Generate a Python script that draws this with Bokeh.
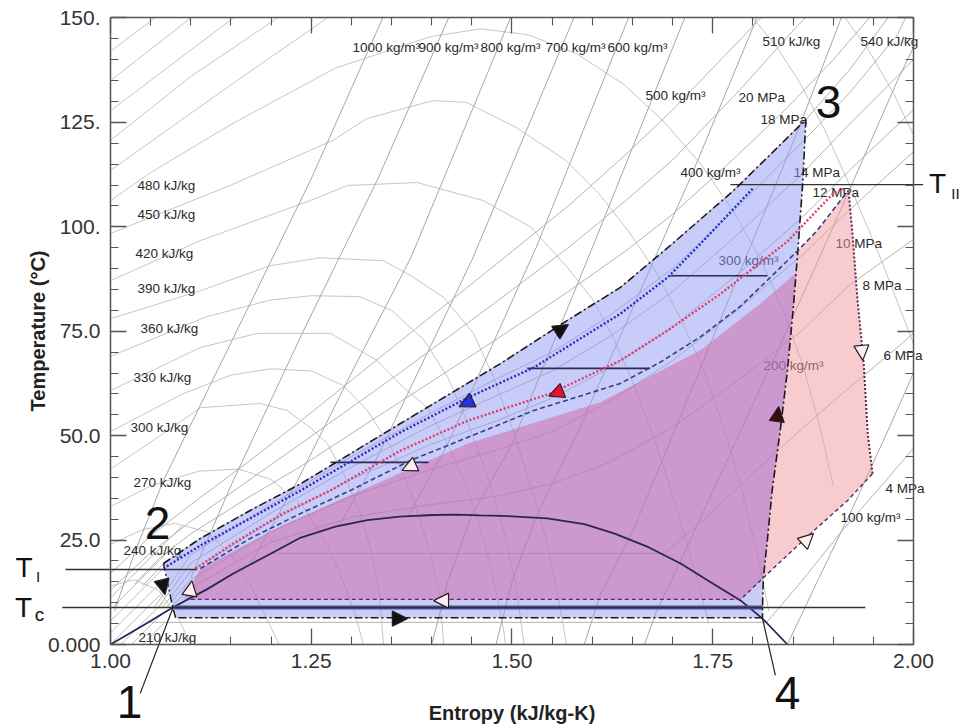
from bokeh.plotting import figure
from bokeh.models import (LinearAxis, FixedTicker, Range1d, NumeralTickFormatter,
                          Arrow, NormalHead, ColumnDataSource)
from bokeh.embed import file_html
from bokeh.resources import INLINE
from bokeh.core.properties import value

FONT = "Liberation Sans"

# ---------------- axes ----------------
X_TICKS = [1.0, 1.25, 1.5, 1.75, 2.0]
X_MINOR = [1.05, 1.10, 1.15, 1.20, 1.30, 1.35, 1.40, 1.45, 1.55, 1.60, 1.65, 1.70, 1.80, 1.85, 1.90, 1.95]
Y_TICKS = [0, 25, 50, 75, 100, 125, 150]
Y_MINOR = [5, 10, 15, 20, 30, 35, 40, 45, 55, 60, 65, 70, 80, 85, 90, 95, 105, 110, 115, 120, 130, 135, 140, 145]
Y_TICK_LABELS = ["0.000", "25.0", "50.0", "75.0", "100.", "125.", "150."]

# ---------------- saturation dome ----------------
DOME_S = [1.000, 1.040, 1.078, 1.120, 1.153, 1.200, 1.237, 1.280, 1.320, 1.360, 1.402, 1.430, 1.461,
          1.500, 1.544, 1.590, 1.627, 1.670, 1.710, 1.750, 1.785, 1.812, 1.843]
DOME_T = [0.0, 4.5, 8.9, 13.2, 17.0, 21.8, 25.6, 28.2, 29.8, 30.6, 31.0, 31.1, 30.9,
          30.7, 30.2, 28.8, 26.6, 23.3, 19.4, 14.6, 10.5, 6.2, 0.0]

# ---------------- isenthalps (grey) ----------------
ENTH_S = [
    [1.000, 1.062, 1.112, 1.187, 1.220, 1.249, 1.270, 1.290, 1.310, 1.325, 1.335, 1.340],
    [1.000, 1.090, 1.150, 1.200, 1.250, 1.290, 1.320, 1.350, 1.375, 1.395, 1.410, 1.415],
    [1.000, 1.112, 1.183, 1.274, 1.332, 1.365, 1.395, 1.420, 1.445, 1.465, 1.480, 1.490, 1.492],
    [1.000, 1.120, 1.200, 1.250, 1.310, 1.350, 1.390, 1.420, 1.445, 1.470, 1.490, 1.505, 1.515],
    [1.000, 1.112, 1.199, 1.261, 1.340, 1.374, 1.415, 1.452, 1.477, 1.500, 1.520, 1.540, 1.555, 1.568],
    [1.000, 1.112, 1.249, 1.295, 1.382, 1.464, 1.523, 1.569, 1.601, 1.626, 1.650, 1.672, 1.693, 1.712, 1.730, 1.745],
    [1.000, 1.150, 1.277, 1.319, 1.401, 1.443, 1.505, 1.567, 1.608, 1.645, 1.680, 1.710, 1.738, 1.762, 1.785, 1.805, 1.820],
    [1.000, 1.050, 1.150, 1.280, 1.398, 1.461, 1.520, 1.580, 1.640, 1.690, 1.735, 1.775, 1.810, 1.840, 1.865, 1.885, 1.900],
    [1.000, 1.050, 1.110, 1.160, 1.200, 1.240, 1.270, 1.290, 1.305, 1.315],
    [1.000, 1.040, 1.080, 1.120, 1.150, 1.175, 1.195, 1.210],
    [1.000, 1.030, 1.060, 1.085, 1.100],
    [1.000, 1.150, 1.270], [1.000, 1.100, 1.208], [1.000, 1.153], [1.000, 1.100], [1.000, 1.055],
    [1.800, 1.830, 1.860, 1.890, 1.925, 1.960, 2.000],
    [1.915, 1.945, 1.975, 2.000],
]
ENTH_T = [
    [42.0, 50.0, 56.7, 57.7, 56.0, 51.9, 48.1, 41.0, 32.0, 22.0, 12.0, 0.0],
    [51.0, 60.0, 64.5, 66.0, 65.5, 62.0, 56.0, 47.0, 36.0, 24.0, 12.0, 0.0],
    [60.8, 71.1, 74.5, 74.5, 68.0, 61.5, 56.7, 48.0, 37.0, 25.0, 13.0, 3.0, 0.0],
    [69.0, 78.5, 82.5, 83.5, 83.3, 80.0, 73.0, 64.0, 53.0, 40.0, 27.0, 14.0, 0.0],
    [78.0, 84.7, 90.7, 92.6, 91.9, 88.3, 83.1, 74.5, 64.0, 52.0, 40.0, 27.0, 14.0, 0.0],
    [87.1, 96.7, 106.3, 109.9, 110.6, 106.3, 100.0, 90.3, 82.4, 73.5, 63.0, 52.0, 40.0, 28.0, 16.0, 5.0],
    [98.4, 110.0, 120.7, 125.9, 130.2, 129.8, 123.8, 115.9, 108.0, 99.0, 89.0, 78.0, 66.0, 53.0, 38.0, 22.0, 8.0],
    [106.3, 113.0, 124.5, 138.0, 145.5, 147.4, 146.0, 141.5, 134.0, 125.0, 115.0, 104.0, 92.0, 79.0, 65.0, 51.0, 38.0],
    [33.0, 38.0, 41.5, 42.0, 39.5, 33.0, 24.0, 15.0, 7.0, 0.0],
    [24.0, 27.5, 29.0, 27.0, 21.5, 14.0, 6.0, 0.0],
    [14.0, 15.5, 13.0, 6.0, 0.0],
    [113.5, 134.0, 150.0], [120.7, 136.0, 150.0], [127.8, 150.0], [135.0, 150.0], [142.0, 150.0],
    [150.0, 143.0, 134.0, 123.0, 108.0, 92.0, 72.0],
    [150.0, 142.0, 132.0, 122.0],
]

# ---------------- isochores (grey) ----------------
RHO_S = [
    [1.005, 1.030, 1.066, 1.157, 1.249, 1.339],
    [1.100, 1.153, 1.240, 1.332, 1.421],
    [1.175, 1.233, 1.300, 1.374, 1.498],
    [1.285, 1.330, 1.450, 1.577],
    [1.370, 1.420, 1.530, 1.645],
    [1.400, 1.420, 1.450, 1.500, 1.600, 1.715],
    [1.480, 1.500, 1.530, 1.580, 1.725, 1.805],
    [1.590, 1.610, 1.650, 1.700, 1.790, 1.860, 1.910],
    [1.665, 1.680, 1.710, 1.770, 1.830, 1.900, 1.980, 2.000],
    [1.843, 1.880, 1.925, 1.970, 2.000],
]
RHO_T = [
    [8.0, 22.0, 39.3, 75.0, 111.1, 150.0],
    [16.0, 39.3, 75.0, 111.1, 150.0],
    [19.5, 39.3, 65.0, 92.6, 150.0],
    [28.5, 44.0, 92.0, 150.0],
    [30.5, 48.0, 95.0, 150.0],
    [0.0, 15.0, 31.0, 48.0, 95.0, 150.0],
    [0.0, 15.0, 30.5, 50.0, 113.0, 150.0],
    [0.0, 12.0, 27.0, 50.0, 92.0, 125.0, 150.0],
    [0.0, 8.0, 20.0, 45.0, 70.0, 100.0, 135.0, 143.0],
    [0.0, 15.0, 33.0, 52.0, 65.0],
]

# ---------------- isobars (grey) ----------------
P_S_STD = [1.100, 1.200, 1.300, 1.400, 1.480, 1.550, 1.620, 1.700, 1.780, 1.860, 1.920, 2.000]
P4_S = [1.045, 1.817, 1.860, 1.910, 1.960, 2.000]
P4_T = [5.3, 5.3, 15.0, 27.0, 38.0, 47.0]
P6_S = [1.200, 1.690, 1.740, 1.800, 1.860, 1.920, 1.970, 2.000]
P6_T = [21.8, 21.8, 30.0, 41.0, 51.5, 61.5, 69.5, 74.5]
P8_S = [1.075] + P_S_STD
P8_T = [9.0, 13.5, 24.5, 30.5, 33.5, 35.5, 38.5, 43.5, 52.0, 63.0, 75.0, 86.0, 97.0]
P10_S = [1.070] + P_S_STD
P10_T = [9.0, 15.5, 27.0, 35.5, 42.0, 46.5, 51.0, 58.0, 68.0, 80.0, 93.0, 104.0, 118.0]
P12_S = [1.065] + P_S_STD
P12_T = [9.0, 17.5, 29.5, 39.5, 48.0, 53.5, 59.0, 66.0, 76.0, 88.5, 102.0, 113.5, 128.0]
P14_S = [1.060] + P_S_STD
P14_T = [9.0, 19.5, 31.5, 42.5, 52.5, 59.5, 65.5, 73.5, 84.5, 98.0, 112.5, 124.5, 140.0]
P16_S = [1.055, 1.100, 1.200, 1.300, 1.400, 1.480, 1.550, 1.620, 1.700, 1.780, 1.860, 1.920, 1.980, 1.990]
P16_T = [9.0, 21.5, 33.5, 45.0, 55.5, 63.5, 70.0, 78.5, 90.0, 104.5, 120.0, 132.0, 146.0, 150.0]
P18_S = [1.040, 1.066, 1.112, 1.174, 1.237, 1.361, 1.486, 1.569, 1.635, 1.694, 1.776, 1.818, 1.866, 1.920, 1.968]
P18_T = [14.0, 19.4, 25.4, 32.1, 38.5, 52.9, 67.3, 77.6, 85.5, 95.0, 108.7, 116.6, 125.7, 137.5, 150.0]
P20_S = [1.030, 1.060, 1.100, 1.170, 1.240, 1.360, 1.480, 1.570, 1.640, 1.700, 1.780, 1.840, 1.900, 1.945]
P20_T = [14.5, 20.5, 26.5, 35.0, 43.0, 58.0, 73.0, 84.5, 94.0, 103.0, 117.0, 128.0, 140.0, 150.0]
P25_S = [1.000, 1.050, 1.100, 1.170, 1.240, 1.360, 1.480, 1.570, 1.640, 1.700, 1.780, 1.850, 1.865]
P25_T = [13.0, 22.0, 29.5, 39.0, 48.5, 65.0, 82.0, 95.0, 106.0, 116.0, 132.0, 147.0, 150.0]
P30_S = [1.000, 1.050, 1.100, 1.170, 1.240, 1.360, 1.480, 1.570, 1.640, 1.700, 1.760, 1.810]
P30_T = [17.0, 26.0, 33.5, 43.5, 54.0, 72.5, 91.0, 105.0, 117.0, 128.0, 140.0, 150.0]

# liquid-region hatch
HATCH_S = [[1.040, 1.066], [1.026, 1.066], [1.013, 1.066], [1.000, 1.066], [1.000, 1.066],
           [1.000, 1.066], [1.000, 1.080], [1.000, 1.090]]
HATCH_T = [[0.0, 5.0], [0.0, 7.7], [0.0, 10.2], [0.0, 12.7], [2.8, 15.5],
           [5.6, 18.3], [8.4, 23.8], [11.2, 28.5]]

# ---------------- line labels ----------------
ENTH_LABELS = ["480 kJ/kg", "450 kJ/kg", "420 kJ/kg", "390 kJ/kg", "360 kJ/kg", "330 kJ/kg",
               "300 kJ/kg", "270 kJ/kg", "240 kJ/kg", "210 kJ/kg", "510 kJ/kg", "540 kJ/kg"]
ENTH_LX = [1.0336, 1.0336, 1.0311, 1.0336, 1.0374, 1.0286, 1.0249, 1.0286, 1.0162, 1.0349, 1.8120, 1.9340]
ENTH_LY = [109.9, 103.0, 93.6, 85.2, 75.7, 63.9, 52.0, 38.8, 22.5, 1.7, 144.4, 144.4]

RHO_LABELS = ["1000 kg/m³", "900 kg/m³", "800 kg/m³", "700 kg/m³", "600 kg/m³",
              "500 kg/m³", "400 kg/m³", "300 kg/m³", "200 kg/m³", "100 kg/m³"]
RHO_LX = [1.3014, 1.3836, 1.4608, 1.5417, 1.6189, 1.6663, 1.7098, 1.7572, 1.8132, 1.9091]
RHO_LY = [142.9, 142.9, 142.9, 142.9, 142.9, 131.4, 113.0, 91.9, 66.8, 30.4]

P_LABELS = ["20 MPa", "18 MPa", "14 MPa", "12 MPa", "10 MPa", "8 MPa", "6 MPa", "4 MPa"]
P_LX = [1.7821, 1.8095, 1.8506, 1.8742, 1.9029, 1.9365, 1.9626, 1.9651]
P_LY = [131.0, 125.7, 113.0, 108.2, 96.0, 86.0, 69.2, 37.4]

# ---------------- cycle ----------------
HP_S = [1.066, 1.112, 1.174, 1.237, 1.361, 1.486, 1.569, 1.635, 1.694, 1.776, 1.818, 1.866]
HP_T = [19.4, 25.4, 32.1, 38.5, 52.9, 67.3, 77.6, 85.5, 95.0, 108.7, 116.6, 125.7]
EXP_S = [1.866, 1.862, 1.856, 1.850, 1.843, 1.834, 1.824, 1.818, 1.813, 1.812, 1.812]
EXP_T = [125.7, 110.4, 94.3, 79.9, 65.6, 51.2, 36.9, 24.9, 16.0, 9.1, 6.4]
BOT_S = [1.812, 1.081]
BOT_T = [6.4, 6.4]
LEFT_S = [1.081, 1.077, 1.066]
LEFT_T = [6.4, 9.3, 19.4]

BD_S = [1.066, 1.112, 1.174, 1.237, 1.361, 1.445, 1.527, 1.635, 1.694, 1.735, 1.800]
BD_T = [18.2, 23.7, 30.2, 36.9, 50.8, 59.1, 66.3, 79.2, 87.9, 96.0, 109.2]
RD_S = [1.106, 1.153, 1.215, 1.274, 1.361, 1.445, 1.548, 1.635, 1.694, 1.760, 1.843, 1.900, 1.915]
RD_T = [18.2, 24.2, 31.4, 36.9, 46.4, 53.6, 60.1, 68.0, 75.2, 84.0, 96.5, 108.0, 109.2]
ND_S = [1.112, 1.174, 1.237, 1.299, 1.374, 1.445, 1.527, 1.635, 1.684, 1.735, 1.784, 1.818, 1.856, 1.880, 1.909, 1.919]
ND_T = [18.2, 25.4, 31.4, 36.9, 44.1, 49.6, 56.0, 62.5, 67.5, 73.7, 80.9, 87.2, 94.3, 99.1, 106.3, 108.7]
LP_S = [1.100, 1.785, 1.813, 1.875, 1.918, 1.949]
LP_T = [10.8, 10.8, 16.0, 27.1, 34.5, 40.9]
PR_S = [1.949, 1.943, 1.938, 1.930, 1.924, 1.919]
PR_T = [40.9, 50.5, 67.3, 83.1, 98.4, 108.7]
PT_S = [1.854, 1.809, 1.735, 1.610, 1.445, 1.311, 1.212, 1.112, 1.100]
PT_T = [89.0, 81.5, 70.5, 58.0, 48.1, 36.8, 28.3, 18.2, 14.0]
VERT_UP_S = [1.818, 1.824, 1.834, 1.843, 1.850]
VERT_UP_T = [24.9, 36.9, 51.2, 65.6, 79.9]

ISO_S = [[1.274, 1.396], [1.519, 1.672], [1.697, 1.818]]
ISO_T = [[43.6, 43.6], [66.1, 66.1], [88.3, 88.3]]
T_I, T_C, T_II = 17.96, 8.86, 110.1
TI_S = [0.944, 1.108]
TC_S = [0.940, 1.940]
TII_S = [1.772, 2.012]
BAND_S = [1.078, 1.812]
LEAD1_S, LEAD1_T = [1.037, 1.078], [-11.7, 8.9]
LEAD4_S, LEAD4_T = [1.828, 1.812], [-7.4, 6.2]

# flow-direction arrow heads: tail -> tip (tip is where the head points)
ARR_TAIL_S = [1.5557, 1.4499, 1.5621, 1.3789, 1.0985, 1.0640, 1.4197, 1.3523, 1.8299, 1.9352, 1.8626]
ARR_TAIL_T = [74.80, 58.43, 60.72, 43.09, 11.95, 15.23, 10.50, 6.20, 53.64, 71.37, 24.26]
ARR_TIP_S = [1.5703, 1.4342, 1.5459, 1.3631, 1.1015, 1.0680, 1.4023, 1.3697, 1.8321, 1.9368, 1.8754]
ARR_TIP_T = [76.60, 56.97, 59.49, 41.71, 15.25, 11.97, 10.50, 6.20, 56.96, 68.03, 26.54]
ARR_GROUPS = {"black": [0, 5, 7], "blue": [1], "red": [2], "maroon": [8], "open": [3, 4, 6, 9, 10]}
ARR_FILL = {"black": "#111111", "blue": "#1f35e0", "red": "#e8102c", "maroon": "#3a0c12", "open": "#fdeeee"}

BIG_TEXT = ["2", "1", "3", "4"]
BIG_S = [1.0585, 1.0237, 1.8941, 1.8431]
BIG_T = [29.2, -13.65, 130.0, -11.5]

# ---------------- figure ----------------
W, H = 961, 728
X0, X1 = 0.863014, 2.059776
Y0, Y1 = -20.1117, 154.18994

p = figure(width=W, height=H, x_range=Range1d(X0, X1), y_range=Range1d(Y0, Y1),
           x_axis_type=None, y_axis_type=None, toolbar_location=None,
           output_backend="svg", min_border=0, outline_line_color=None,
           background_fill_color="white", border_fill_color="white")

AX = "#555555"

def style_axis(ax):
    ax.axis_line_color = AX
    ax.axis_line_width = 1.5
    ax.major_tick_line_color = AX
    ax.minor_tick_line_color = AX
    ax.major_tick_line_width = 1.3
    ax.minor_tick_line_width = 1.1
    ax.major_tick_in = 16
    ax.major_tick_out = 0
    ax.minor_tick_in = 8
    ax.minor_tick_out = 0
    ax.major_label_text_font = FONT
    ax.major_label_text_font_size = "21px"
    ax.major_label_text_color = "#333333"
    ax.axis_label_text_font = FONT
    ax.axis_label_text_font_style = "bold"
    ax.axis_label_text_font_size = "20px"
    ax.axis_label_text_color = "#222222"

xax = LinearAxis(fixed_location=0, bounds=(1.0, 2.0),
                 ticker=FixedTicker(ticks=X_TICKS, minor_ticks=X_MINOR),
                 formatter=NumeralTickFormatter(format="0.00"),
                 axis_label="Entropy (kJ/kg-K)")
style_axis(xax)
xax.major_label_standoff = 9
xax.axis_label_standoff = 31
p.add_layout(xax, "below")

yax = LinearAxis(fixed_location=1.0, bounds=(0, 150),
                 ticker=FixedTicker(ticks=Y_TICKS, minor_ticks=Y_MINOR),
                 major_label_overrides={t: l for t, l in zip(Y_TICKS, Y_TICK_LABELS)},
                 axis_label="Temperature (°C)")
style_axis(yax)
yax.major_label_standoff = 10
yax.axis_label_standoff = -4
p.add_layout(yax, "left")

tax = LinearAxis(fixed_location=150, bounds=(1.0, 2.0),
                 ticker=FixedTicker(ticks=X_TICKS, minor_ticks=X_MINOR),
                 major_label_overrides={t: "" for t in X_TICKS})
style_axis(tax)
p.add_layout(tax, "above")

rax = LinearAxis(fixed_location=2.0, bounds=(0, 150),
                 ticker=FixedTicker(ticks=Y_TICKS, minor_ticks=Y_MINOR),
                 major_label_overrides={t: "" for t in Y_TICKS})
style_axis(rax)
p.add_layout(rax, "right")

# grey property lines
p.multi_line(ENTH_S, ENTH_T, line_color="#c6c6c6", line_width=1.0)
p.multi_line(HATCH_S, HATCH_T, line_color="#b4b4b4", line_width=0.9)
p.multi_line(RHO_S, RHO_T, line_color="#9c9c9c", line_width=0.9)
p.multi_line([P4_S, P6_S, P8_S, P10_S, P12_S, P14_S, P16_S, P18_S, P20_S, P25_S, P30_S],
             [P4_T, P6_T, P8_T, P10_T, P12_T, P14_T, P16_T, P18_T, P20_T, P25_T, P30_T],
             line_color="#ababab", line_width=0.9)

lab_kw = dict(text_font=value(FONT), text_font_size=value("13.5px"), text_color="#2a2a2a",
              text_align="left", text_baseline="middle")
p.text(ENTH_LX, ENTH_LY, text=ENTH_LABELS, **lab_kw)
p.text(RHO_LX, RHO_LY, text=RHO_LABELS, **lab_kw)
p.text(P_LX, P_LY, text=P_LABELS, **lab_kw)

# fills
p.patch(HP_S + EXP_S[1:] + [1.081, 1.077], HP_T + EXP_T[1:] + [6.4, 9.3],
        fill_color="#9199f3", fill_alpha=0.5, line_color=None)
p.patch([1.856, 1.880, 1.909, 1.919] + PR_S[::-1][1:] + [1.918, 1.875, 1.813] + VERT_UP_S,
        [94.3, 99.1, 106.3, 108.7] + PR_T[::-1][1:] + [34.5, 27.1, 16.0] + VERT_UP_T,
        fill_color="#f1999d", fill_alpha=0.5, line_color=None)
p.patch([1.092, 1.785, 1.813] + VERT_UP_S + PT_S,
        [10.8, 10.8, 16.0] + VERT_UP_T + PT_T,
        fill_color="#d264a1", fill_alpha=0.5, line_color=None)

# dome and reference lines
p.line(DOME_S, DOME_T, line_color="#2a2458", line_width=1.8)
p.line(BAND_S, [T_C, T_C], line_color="#4d529c", line_width=4)
p.line(TC_S, [T_C, T_C], line_color="#333333", line_width=1.4)
p.line(TI_S, [T_I, T_I], line_color="#333333", line_width=1.4)
p.line(TII_S, [T_II, T_II], line_color="#333333", line_width=1.4)
p.multi_line(ISO_S, ISO_T, line_color="#2b2b55", line_width=1.6)
p.line(LEAD1_S, LEAD1_T, line_color="#222222", line_width=1.2)
p.line(LEAD4_S, LEAD4_T, line_color="#222222", line_width=1.2)

# cycle lines
DD = "8 3 2 3"
p.line(HP_S, HP_T, line_color="#1a1a1a", line_width=1.6, line_dash=DD)
p.line(EXP_S, EXP_T, line_color="#1a1a1a", line_width=1.6, line_dash=DD)
p.line(BOT_S, BOT_T, line_color="#1a1a1a", line_width=1.6, line_dash=DD)
p.line(LEFT_S, LEFT_T, line_color="#1a1a1a", line_width=1.4, line_dash=DD)
p.line(BD_S, BD_T, line_color="#2a2ac8", line_width=2.4, line_dash="2 2")
p.line(RD_S, RD_T, line_color="#e23c64", line_width=2.4, line_dash="2 2")
p.line(ND_S, ND_T, line_color="#3a3a8a", line_width=1.6, line_dash="5 3")
p.line(LP_S, LP_T, line_color="#4a3360", line_width=1.4, line_dash="4 3")
p.line(PR_S, PR_T, line_color="#5a2a48", line_width=2.0, line_dash="2 2")

# direction arrow heads
for name, idx in ARR_GROUPS.items():
    src = ColumnDataSource(dict(x0=[ARR_TAIL_S[i] for i in idx], y0=[ARR_TAIL_T[i] for i in idx],
                                x1=[ARR_TIP_S[i] for i in idx], y1=[ARR_TIP_T[i] for i in idx]))
    head = NormalHead(size=15, fill_color=ARR_FILL[name], line_color="#2a1a2a", line_width=1.2)
    p.add_layout(Arrow(end=head, x_start="x0", y_start="y0", x_end="x1", y_end="y1",
                       source=src, line_color=None))

# point labels
p.text(BIG_S, BIG_T, text=BIG_TEXT, text_font=value(FONT), text_font_size=value("46px"),
       text_color="#111111", text_align="center", text_baseline="middle")
p.text([0.8923, 0.8917, 2.0299], [18.44, 8.86, 110.49], text=["T", "T", "T"],
       text_font=value(FONT), text_font_size=value("28px"), text_color="#111111",
       text_align="center", text_baseline="middle")
p.text([0.9097, 2.0523], [16.40, 108.1], text=["I", "II"],
       text_font=value(FONT), text_font_size=value("15px"), text_color="#111111",
       text_align="center", text_baseline="middle")
p.text([0.9116], [7.30], text=["c"],
       text_font=value(FONT), text_font_size=value("19px"), text_color="#111111",
       text_align="center", text_baseline="middle")

open("out.html", "w").write(file_html(p, INLINE))
